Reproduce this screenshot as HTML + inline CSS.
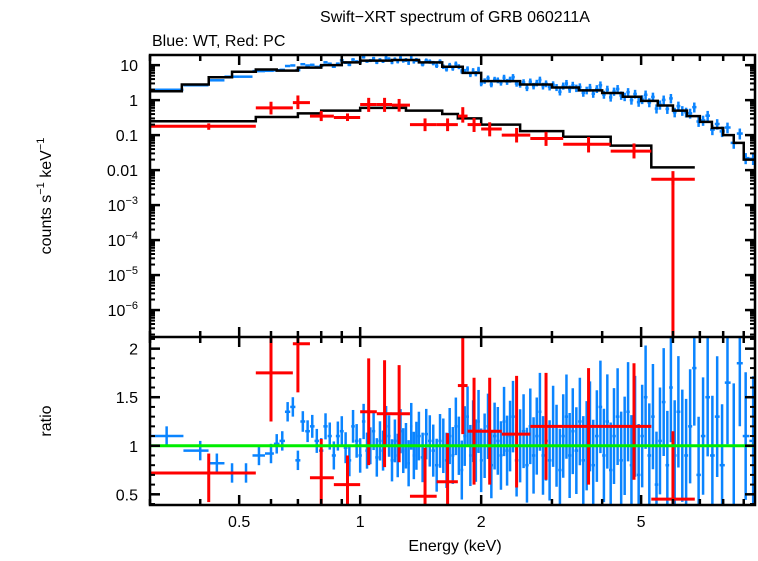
<!DOCTYPE html>
<html><head><meta charset="utf-8"><style>
body{margin:0;background:#fff;width:758px;height:556px;overflow:hidden}
svg text{font-family:"Liberation Sans",sans-serif;fill:#000}
</style></head><body>
<svg id="c" width="758" height="556" xmlns="http://www.w3.org/2000/svg">
<text x="455" y="22" font-size="16" text-anchor="middle">Swift−XRT spectrum of GRB 060211A</text>
<text x="152" y="46" font-size="16" text-anchor="start">Blue: WT, Red: PC</text>
<text x="0" y="0" font-size="16" text-anchor="middle" transform="translate(51,196) rotate(-90)">counts s<tspan font-size="11" dy="-7">−1</tspan><tspan dy="7"> keV</tspan><tspan font-size="11" dy="-7">−1</tspan></text>
<text x="0" y="0" font-size="16" text-anchor="middle" transform="translate(51,421) rotate(-90)">ratio</text>
<text x="455" y="551" font-size="16" text-anchor="middle">Energy (keV)</text>
</svg>
<script>
// ---- data ----
const blueE=[0.33,0.40,0.44,0.48,0.52,0.56,0.6,0.62,0.64,0.66,0.68,0.70,0.72,0.74,0.76,0.78,0.80,0.82,0.84,0.86,0.88,0.90,0.92,0.94,0.96,0.98,1.00,1.02,1.04,1.06,1.08,1.10,1.12,1.14,1.16,1.18,1.20,1.22,1.24,1.26,1.28,1.30,1.32,1.34,1.36,1.38,1.40,1.43,1.46,1.49,1.52,1.55,1.58,1.61,1.64,1.67,1.70,1.73,1.76,1.79,1.82,1.85,1.88,1.91,1.94,1.97,2.00,2.04,2.08,2.12,2.16,2.20,2.24,2.28,2.32,2.36,2.40,2.45,2.50,2.55,2.60,2.65,2.70,2.75,2.80,2.85,2.90,2.96,3.02,3.08,3.14,3.20,3.26,3.32,3.38,3.45,3.52,3.59,3.66,3.73,3.80,3.88,3.96,4.04,4.12,4.20,4.28,4.37,4.46,4.55,4.64,4.73,4.83,4.93,5.03,5.13,5.24,5.35,5.46,5.57,5.69,5.81,5.93,6.06,6.19,6.33,6.47,6.62,6.78,6.95,7.13,7.32,7.52,7.73,7.95,8.2,8.5,8.8,9.1,9.5];
const blueRatio=[1.1,0.95,0.82,0.72,0.72,0.9,0.92,1.02,1.05,1.35,
1.4,0.85,1.25,1.15,1.2,1.05,0.95,1.2,1.1,0.9,
1.1,1.15,0.98,0.85,1.2,1.05,0.9,1.25,0.95,1.0,
1.15,0.88,1.05,0.95,1.2,1.1,0.85,1.05,0.9,1.15,
0.95,1.0,0.82,1.2,0.9,1.0,1.1,0.88,1.12,1.05,
0.95,0.8,1.05,1.0,0.85,1.1,0.9,1.2,1.0,0.75,
1.1,1.3,0.9,1.15,0.95,1.25,0.85,1.0,1.2,0.8,
1.1,1.05,0.9,1.25,0.95,1.1,1.3,0.85,1.0,1.15,
0.8,1.2,0.9,1.1,1.35,0.9,1.05,0.85,1.2,1.0,
0.75,1.1,1.3,0.9,1.15,0.95,1.25,0.85,1.0,1.2,
0.8,1.1,1.4,0.9,1.25,0.75,1.1,1.3,0.85,1.0,
1.35,0.8,1.2,0.7,1.1,1.5,0.9,1.3,0.6,1.05,
1.45,0.8,1.6,0.9,1.35,1.0,0.9,1.2,1.8,0.7,
1.1,1.5,0.9,1.3,0.8,1.65,1.0,1.85,1.1,1.05];
const blueModelEdges=[0.3,0.36,0.42,0.48,0.55,0.62,0.7,0.8,0.9,1.0,1.2,1.4,1.6,1.8,2.0,2.5,3.0,3.5,4.0,4.5,5.0,5.5,6.0,6.5,7.0,7.5,8.0,8.5,9.0,9.6];
const blueModelVals=[1.8,2.8,4.5,6.5,7.5,7.0,8.5,10,12,13.5,14,12,9,6,3.5,2.8,2.3,1.9,1.6,1.25,0.95,0.7,0.5,0.35,0.24,0.16,0.1,0.06,0.02];
const redLo=[0.3,0.55,0.68,0.75,0.86,1.0,1.1,1.2,1.33,1.55,1.75,1.85,2.0,2.25,2.65,3.2,4.2,5.3];
const redHi=[0.55,0.68,0.75,0.86,1.0,1.1,1.2,1.33,1.55,1.75,1.85,2.0,2.25,2.65,3.2,4.2,5.3,6.8];
const redE=[0.42,0.6,0.7,0.8,0.93,1.05,1.15,1.25,1.45,1.65,1.8,1.92,2.1,2.45,2.9,3.7,4.8,6.0];
const redY=[0.18,0.6,0.85,0.35,0.32,0.75,0.75,0.72,0.2,0.2,0.35,0.2,0.15,0.1,0.08,0.055,0.035,0.0055];
const redRatio=[0.72,1.75,2.05,0.67,0.6,1.35,1.33,1.33,0.48,0.63,1.62,1.15,1.15,1.12,1.2,1.2,1.2,0.45];
const redErrUp=[0.2,0.5,0.6,0.4,0.3,0.55,0.55,0.5,0.5,0.5,0.8,0.55,0.55,0.6,0.55,0.6,0.65,0.7];
const redErrDn=[0.3,0.5,0.5,0.4,0.3,0.55,0.55,0.5,0.5,0.5,0.5,0.55,0.55,0.55,0.55,0.6,0.55,0.45];
const redModelEdges=[0.3,0.55,0.7,0.8,1.0,1.3,1.6,1.75,2.0,2.5,3.2,4.2,5.3,6.8];
const redModelVals=[0.25,0.33,0.42,0.5,0.6,0.5,0.4,0.3,0.2,0.13,0.09,0.05,0.012];
const xTicksMajor=[0.5,1,2,5];
const xTicksMinor=[0.3,0.4,0.6,0.7,0.8,0.9,3,4,6,7,8,9];
const yTopLabels=["10","1","0.1","0.01","10|-3","10|-4","10|-5","10|-6"];
const yTopExps=[1,0,-1,-2,-3,-4,-5,-6];
const yBotTicks=[0.5,1,1.5,2];
// ---- axes ----
const L=150,R=755,T1=55,B1=337,T2=337,B2=505;
const X0=Math.log10(0.3),X1=Math.log10(9.6);
const x=e=>L+(Math.log10(e)-X0)/(X1-X0)*(R-L);
const Y0=-6.77,Y1=1.29;
const yT=v=>B1-(Math.log10(v)-Y0)/(Y1-Y0)*(B1-T1);
const R0=0.39,R1=2.12;
const yB=v=>B2-(v-R0)/(R1-R0)*(B2-T2);
const svg=document.getElementById('c');const NS='http://www.w3.org/2000/svg';
function mk(t,a,p){const e=document.createElementNS(NS,t);for(const k in a)e.setAttribute(k,a[k]);(p||svg).appendChild(e);return e;}
function ln(x1,y1,x2,y2,c,w,p){return mk('line',{x1,y1,x2,y2,stroke:c,'stroke-width':w},p);}
function tx(s,xx,yy,a,p){const e=mk('text',{x:xx,y:yy,'font-size':a.fs||16,'text-anchor':a.an||'middle'},p);e.textContent=s;return e;}
const BL='#0a84ff',RD='#ff0000';
const defs=mk('defs',{});
const c1=mk('clipPath',{id:'c1'},defs);mk('rect',{x:L,y:T1,width:R-L,height:B1-T1},c1);
const c2=mk('clipPath',{id:'c2'},defs);mk('rect',{x:L,y:T2,width:R-L,height:B2-T2},c2);
const gTop=mk('g',{'clip-path':'url(#c1)'});


const gBot=mk('g',{'clip-path':'url(#c2)'});


function modelAt(edges,vals,e){for(let i=0;i<vals.length;i++){if(e>=edges[i]&&e<edges[i+1])return vals[i];}return vals[vals.length-1];}
const gBlueT=mk('g',{},gTop);


const gBlueB=mk('g',{},gBot);


const n=Math.min(blueE.length,blueRatio.length);
for(let i=0;i<n;i++){
  const e=blueE[i];
  const lo=i>0?Math.sqrt(blueE[i-1]*e):e*0.9, hi=i<n-1?Math.sqrt(blueE[i+1]*e):e*1.03;
  const err=0.1+0.5*Math.max(0,Math.log10(e/0.7));
  const r=blueRatio[i];
  const c=modelAt(blueModelEdges,blueModelVals,e)*r;
  ln(x(lo),yT(c),x(hi),yT(c),BL,2.5,gBlueT);
  ln(x(e),yT(c*(1-err*0.5)),x(e),yT(c*(1+err*0.6)),BL,2.5,gBlueT);
  ln(x(lo),yB(r),x(hi),yB(r),BL,2.5,gBlueB);
  ln(x(e),yB(r-err),x(e),yB(r+err),BL,2.5,gBlueB);
}
function stepPath(edges,vals){let d='';for(let i=0;i<vals.length;i++){const yy=yT(vals[i]);d+=(i?'L':'M')+x(edges[i])+' '+yy+'L'+x(edges[i+1])+' '+yy;}return d;}
const m1=mk('path',{d:stepPath(blueModelEdges,blueModelVals),fill:'none',stroke:'#000','stroke-width':2.5},gTop);


const m2=mk('path',{d:stepPath(redModelEdges,redModelVals),fill:'none',stroke:'#000','stroke-width':2.5},gTop);


const gRedT=mk('g',{},gTop);


const gRedB=mk('g',{},gBot);


for(let i=0;i<redE.length;i++){
  const y=redY[i];
  ln(x(redLo[i]),yT(y),x(redHi[i]),yT(y),RD,3,gRedT);
  ln(x(redE[i]),yT(y*(1-redErrDn[i]*0.7)),x(redE[i]),yT(y*(1+redErrUp[i])),RD,3,gRedT);
  if(i===redE.length-1) ln(x(redE[i]),yT(y),x(redE[i]),B1,RD,3,gRedT);
  const r=redRatio[i];
  ln(x(redLo[i]),yB(r),x(redHi[i]),yB(r),RD,3,gRedB);
  ln(x(redE[i]),yB(r-redErrDn[i]),x(redE[i]),yB(r+redErrUp[i]),RD,3,gRedB);
}
const gl=ln(L,yB(1),R,yB(1),'#00ee00',3);


const ax=mk('g',{});


mk('rect',{x:L,y:T1,width:R-L,height:B2-T1,fill:'none',stroke:'#000','stroke-width':2.5},ax);
ln(L,B1,R,B1,'#000',2.5,ax);
xTicksMajor.forEach(e=>{const X=x(e);[[T1,1],[B1,-1],[B1,1],[B2,-1]].forEach(([yy,d])=>ln(X,yy,X,yy+d*10,'#000',2.5,ax));tx(String(e),X,527,{},ax);});
xTicksMinor.forEach(e=>{const X=x(e);[[T1,1],[B1,-1],[B1,1],[B2,-1]].forEach(([yy,d])=>ln(X,yy,X,yy+d*6,'#000',2.5,ax));});
yTopExps.forEach((p,i)=>{const Y=yT(Math.pow(10,p));ln(L,Y,L+10,Y,'#000',2.5,ax);ln(R,Y,R-10,Y,'#000',2.5,ax);
  for(let k=2;k<10;k++){const yy=yT(k*Math.pow(10,p-1));if(yy<T1||yy>B1)continue;ln(L,yy,L+5,yy,'#000',2,ax);ln(R,yy,R-5,yy,'#000',2,ax);}
  const lab=yTopLabels[i];
  if(lab.indexOf('|')<0){tx(lab,138,Y+6,{an:'end'},ax);}
  else{const [b,ex]=lab.split('|');const t=mk('text',{x:138,y:Y+6,'font-size':16,'text-anchor':'end'},ax);t.textContent=b;const s=mk('tspan',{dy:-7,'font-size':11},t);s.textContent=ex.replace('-','\u2212');}
});
yBotTicks.forEach(v=>{const Y=yB(v);ln(L,Y,L+10,Y,'#000',2.5,ax);ln(R,Y,R-10,Y,'#000',2.5,ax);tx(String(v),138,Y+6,{an:'end'},ax);});
for(let v=0.4;v<2.12;v+=0.1){const Y=yB(v);ln(L,Y,L+5,Y,'#000',2,ax);ln(R,Y,R-5,Y,'#000',2,ax);}
</script>
</body></html>
